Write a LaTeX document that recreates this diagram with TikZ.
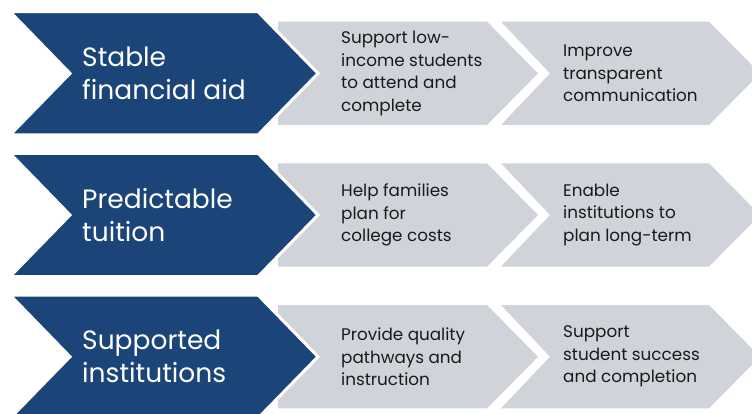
\documentclass[tikz,border=0pt]{standalone}
\usepackage{fontspec}
\setmainfont{Poppins}
\definecolor{navy}{HTML}{1B4578}
\definecolor{lgray}{HTML}{D0D3DA}
\definecolor{ink}{HTML}{1A1A1A}
\tikzset{
  bluechev/.style={fill=navy, draw=white, line width=3pt, line join=miter},
  graychev/.style={fill=lgray, draw=none},
  bluetxt/.style={anchor=west, align=left, text=white, inner sep=0pt,
    font=\fontsize{26.5}{33}\selectfont},
  graytxt/.style={anchor=west, align=left, text=ink, inner sep=0pt,
    font=\fontsize{16.8}{22.5}\selectfont},
}
\begin{document}
\begin{tikzpicture}[x=1pt,y=-1pt]
\useasboundingbox (0,0) rectangle (752,414);
\clip (0,0) rectangle (752,414);
\foreach \T/\r in {11.7/a,153.3/b,295/c}{
  \pgfmathsetmacro{\M}{\T+61.7}
  \pgfmathsetmacro{\B}{\T+123.3}
  \pgfmathsetmacro{\gt}{\T+10}
  \pgfmathsetmacro{\gb}{\T+113.3}
  \fill[graychev] (278,\gt) -- (487,\gt) -- (538,\M) -- (487,\gb) -- (278,\gb) -- cycle;
  \fill[graychev] (501,\gt) -- (709,\gt) -- (760,\M) -- (709,\gb) -- (501,\gb) -- (550,\M) -- cycle;
  \path[bluechev] (10,\T) -- (258,\T) -- (318,\M) -- (258,\B) -- (10,\B) -- (70,\M) -- cycle;
  \coordinate (m\r) at (0,\M);
}
\node[bluetxt] (t1) at (82,|-ma) {Stable\\financial aid};
\node[bluetxt] (t2) at (82,|-mb) {Predictable\\tuition};
\node[bluetxt] (t3) at (82,|-mc) {Supported\\institutions};
\node[graytxt] (a1) at (341,|-ma) {Support low-\\income students\\to attend and\\complete};
\node[graytxt] (a2) at (563,|-ma) {Improve\\transparent\\communication};
\node[graytxt] (b1) at (341,|-mb) {Help families\\plan for\\college costs};
\node[graytxt] (b2) at (563,|-mb) {Enable\\institutions to\\plan long-term};
\node[graytxt] (c1) at (341,|-mc) {Provide quality\\pathways and\\instruction};
\node[graytxt] (c2) at (563,|-mc) {Support\\student success\\and completion};
\end{tikzpicture}
\end{document}
